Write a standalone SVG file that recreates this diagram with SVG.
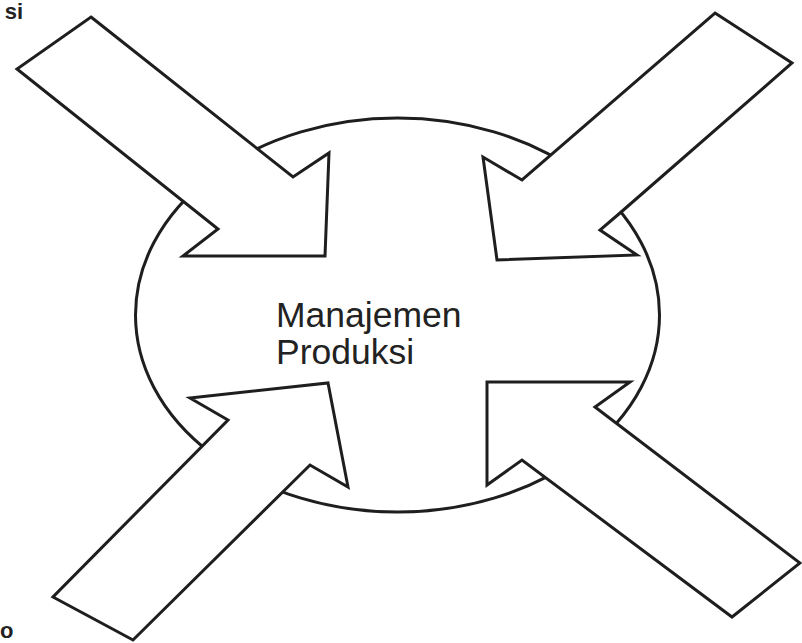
<svg xmlns="http://www.w3.org/2000/svg" width="802" height="643" viewBox="0 0 802 643">
<style>
.shape{fill:#fff;stroke:#1e1e1e;stroke-width:3;stroke-linejoin:miter}
.lbl{font-family:"Liberation Sans",Arial,sans-serif;fill:#222}
</style>
<rect width="802" height="643" fill="#fff"/>
<g id="center">
<ellipse class="shape" cx="397.5" cy="315" rx="262" ry="197"/>
<text class="lbl" x="276" y="327" font-size="35.5">Manajemen</text>
<text class="lbl" x="276" y="364" font-size="35.5">Produksi</text>
</g>
<g id="connectors">
<g id="arrow-tl"><polygon class="shape" points="91,17 293,177 329,153 325,256 183,256 218,229 17,69"/></g>
<g id="arrow-tr"><polygon class="shape" points="715,13 792,63 620,213 600,230 637,255 497,260 483,157 522,180"/></g>
<g id="arrow-bl"><polygon class="shape" points="53,597 133,640 310,465 348,487 328,383 190,398 228,420"/></g>
<g id="arrow-br"><polygon class="shape" points="487,382 630,382 595,407 800,563 732,617 522,460 487,485"/></g>
</g>
<g id="corner-labels">
<text class="lbl" x="23" y="19" font-size="22" font-weight="bold" text-anchor="end">si</text>
<text class="lbl" x="0" y="638" font-size="22" font-weight="bold">o</text>
</g>
</svg>
